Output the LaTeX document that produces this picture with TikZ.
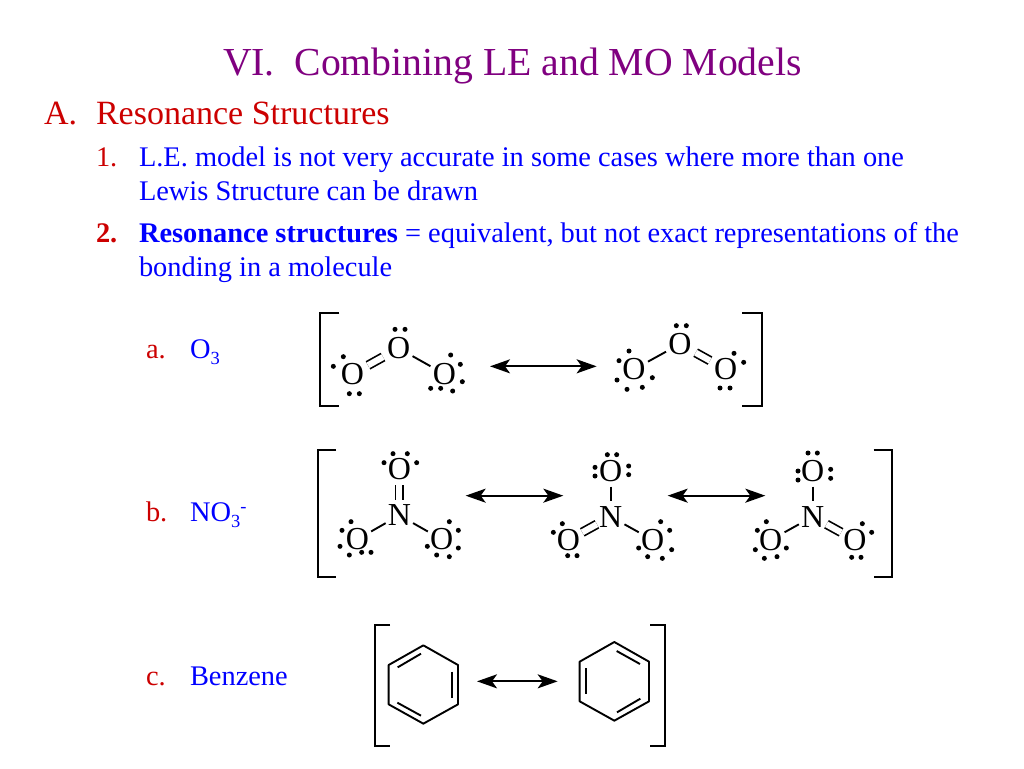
\documentclass[tikz,border=0pt]{standalone}
\usepackage{fontspec}
\setmainfont{Liberation Serif}
\usetikzlibrary{arrows.meta}
\definecolor{ttl}{RGB}{128,0,128}
\definecolor{rd}{RGB}{204,0,0}
\definecolor{bl}{RGB}{0,0,255}
\newcommand{\fs}[1]{\fontsize{#1}{#1}\selectfont}
\newcommand{\lsub}[1]{\raisebox{-6.5pt}{\fs{18.5}#1}}
\newcommand{\lsup}[1]{\raisebox{9pt}{\fs{18.5}#1}}
\tikzset{
 txt/.style={anchor=base west,inner sep=0pt,outer sep=0pt},
 lab/.style={txt,font=\fs{28.4}},
 atom/.style={circle,inner sep=0pt,minimum size=31pt,font=\fs{32},text=black},
 bond/.style={line width=1.9pt,black},
 dbl/.style={bond,double,double distance=6.2pt,line width=1.7pt},
 short/.style={shorten >=2pt,shorten <=2pt},
 eldot/.style={circle,fill=black,inner sep=0pt,minimum size=5pt},
 res/.style={{Stealth[length=20pt,width=14pt,inset=5pt]}-{Stealth[length=20pt,width=14pt,inset=5pt]},line width=2pt,black},
 brk/.style={line width=2pt,black},
 z1/.style={shift={(310,305)},x=0.33333pt,y=-0.33333pt},
 z2/.style={shift={(310,440)},x=0.33333pt,y=-0.33333pt},
 z3/.style={shift={(600,440)},x=0.33333pt,y=-0.33333pt},
 z4/.style={shift={(365,615)},x=0.33333pt,y=-0.33333pt},
}
\newcommand{\eld}[1]{\foreach \p in {#1}{\node[eldot] at \p {};}}
\begin{document}
\begin{tikzpicture}[x=1pt,y=-1pt]
\useasboundingbox (0,0) rectangle (1024,768);
\fill[white] (0,0) rectangle (1024,768);
\node[txt,text=ttl,font=\fs{39.7}] (title) at (223,75) {VI.\ \ Combining LE and MO Models};
\node[txt,text=rd,font=\fs{34}] (hA) at (44,124) {A.};
\node[txt,text=rd,font=\fs{34}] (hAt) at (96,124) {Resonance Structures};
\node[lab,text=rd] (n1) at (96,166) {1.};
\node[lab,text=bl] (t1) at (139,166) {L.E. model is not very accurate in some cases where more than one};
\node[lab,text=bl] (t1b) at (139,200) {Lewis Structure can be drawn};
\node[lab,text=rd,font=\fs{28.4}\bfseries] (n2) at (96,242) {2.};
\node[lab,text=bl] (t2) at (139,242) {\textbf{Resonance structures} = equivalent, but not exact representations of the};
\node[lab,text=bl] (t2b) at (139,276) {bonding in a molecule};
\node[lab,text=rd] (la) at (146,358) {a.};
\node[lab,text=bl] (lao) at (190,358) {O\lsub{3}};
\node[lab,text=rd] (lb) at (146,521) {b.};
\node[lab,text=bl] (lbo) at (190,521) {NO\lsub{3}\lsup{-}};
\node[lab,text=rd] (lc) at (146,685) {c.};
\node[lab,text=bl] (lct) at (190,685) {Benzene};
% Ozone
\begin{scope}[z1]
\draw[brk] (88,25) -- (30,25) -- (30,302) -- (88,302);
\draw[brk] (1297,25) -- (1355,25) -- (1355,302) -- (1297,302);
\node[atom] (oa1) at (127,207) {O};
\node[atom] (oa2) at (266,130) {O};
\node[atom] (oa3) at (403,207) {O};
\node[atom] (ob1) at (972,193) {O};
\node[atom] (ob2) at (1110,117) {O};
\node[atom] (ob3) at (1247,193) {O};
\draw[dbl,short] (oa1) -- (oa2);
\draw[bond] (oa2) -- (oa3);
\draw[bond] (ob1) -- (ob2);
\draw[dbl,short] (ob2) -- (ob3);
\coordinate (ra) at (540,184); \coordinate (rb) at (860,184);
\draw[res] (ra) -- (rb);
\eld{(255,73),(285,73),(100,155),(70,184),(118,266),(148,266),(422,150),(451,178),(457,230),(428,258),(392,250),(362,250),(957,138),(927,167),(921,225),(951,253),(997,247),(1027,218),(1099,62),(1129,62),(1272,145),(1301,172),(1230,249),(1260,249)}
\end{scope}
% Nitrate
\begin{scope}[z2]
\draw[brk] (78,30) -- (24,30) -- (24,411) -- (78,411);
\node[atom] (na0) at (268,88) {O};
\node[atom] (naN) at (268,226) {N};
\node[atom] (na1) at (142,298) {O};
\node[atom] (na2) at (395,298) {O};
\draw[dbl] (na0) -- (naN);
\draw[bond] (naN) -- (na1);
\draw[bond] (naN) -- (na2);
\coordinate (rc) at (467,167); \coordinate (rd1) at (760,167);
\draw[res] (rc) -- (rd1);
\eld{(249,41),(292,41),(222,68),(320,68),(123,245),(96,271),(90,319),(118,345),(155,337),(183,337),(418,245),(445,271),(445,324),(418,350),(380,345),(352,319)}
\end{scope}
\begin{scope}[z3]
\node[atom] (nb0) at (32,92) {O};
\node[atom] (nbN) at (32,230) {N};
\node[atom] (nb1) at (-95,300) {O};
\node[atom] (nb2) at (158,300) {O};
\draw[bond] (nb0) -- (nbN);
\draw[dbl] (nbN) -- (nb1);
\draw[bond] (nbN) -- (nb2);
\coordinate (re) at (203,167); \coordinate (rf) at (496,167);
\draw[res] (re) -- (rf);
\eld{(22,44),(50,44),(86,78),(86,104),(-15,82),(-15,108),(-113,251),(-140,277),(-97,347),(-69,347),(182,245),(209,271),(215,329),(187,355),(143,350),(116,324)}
\node[atom] (nc0) at (638,92) {O};
\node[atom] (ncN) at (638,230) {N};
\node[atom] (nc1) at (512,300) {O};
\node[atom] (nc2) at (765,300) {O};
\draw[bond] (nc0) -- (ncN);
\draw[bond] (ncN) -- (nc1);
\draw[dbl] (ncN) -- (nc2);
\eld{(624,39),(652,39),(594,93),(594,120),(692,88),(692,115),(499,245),(472,271),(466,329),(493,355),(531,350),(559,324),(787,251),(815,277),(755,352),(783,352)}
\draw[brk] (821,30) -- (875,30) -- (875,411) -- (821,411);
\end{scope}
% Benzene
\begin{scope}[z4]
\draw[brk] (75,30) -- (31,30) -- (31,393) -- (75,393);
\draw[brk] (856,30) -- (899,30) -- (899,393) -- (856,393);
\draw[bond,line join=round] (175,91) -- (279,150) -- (279,268) -- (175,326) -- (71,268) -- (71,150) -- cycle;
\draw[bond] (98,157) -- (168,116);
\draw[bond] (260,170) -- (260,248);
\draw[bond] (97,263) -- (168,302);
\draw[bond,line join=round] (748,81) -- (852,140) -- (852,259) -- (748,317) -- (644,259) -- (644,140) -- cycle;
\draw[bond] (755,108) -- (825,147);
\draw[bond] (663,160) -- (663,238);
\draw[bond] (756,292) -- (826,251);
\coordinate (rg) at (336,199); \coordinate (rh) at (578,199);
\draw[res] (rg) -- (rh);
\end{scope}
\end{tikzpicture}
\end{document}
